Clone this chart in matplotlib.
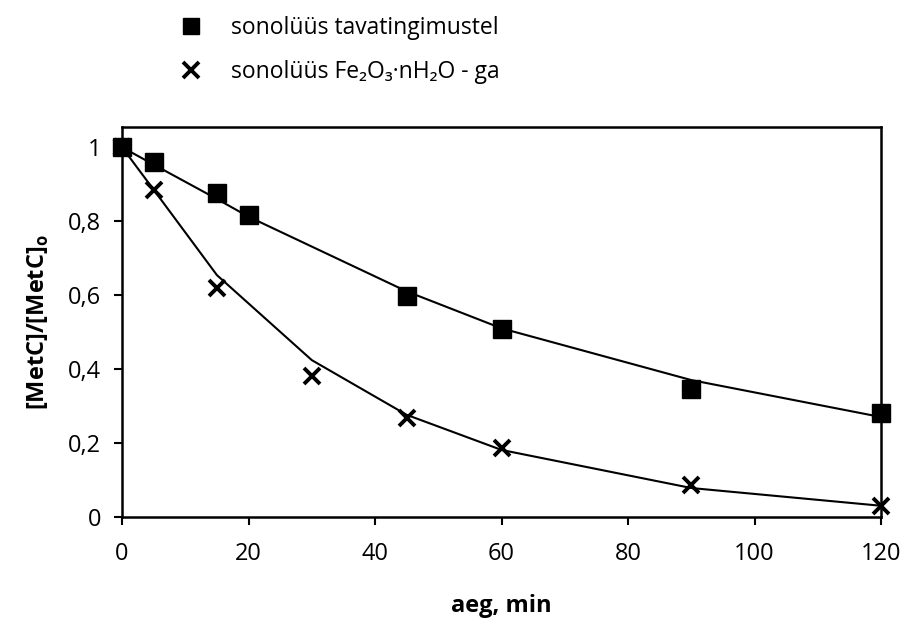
import matplotlib
matplotlib.use("Agg")
import matplotlib.pyplot as plt
from matplotlib.lines import Line2D
from matplotlib.ticker import FuncFormatter

plt.rcParams["font.family"] = ["Open Sans", "DejaVu Sans"]
plt.rcParams["mathtext.fontset"] = "custom"
plt.rcParams["mathtext.rm"] = "Open Sans"
plt.rcParams["mathtext.bf"] = "Open Sans:bold"

# mõõdetud punktid
t_sq = [0, 5, 15, 20, 45, 60, 90, 120]
y_sq = [1.0, 0.96, 0.876, 0.816, 0.597, 0.508, 0.346, 0.281]
t_x = [0, 5, 15, 30, 45, 60, 90, 120]
y_x = [1.0, 0.884, 0.619, 0.381, 0.268, 0.186, 0.086, 0.03]

# mudeli kõverad
fit_sq = [1.0, 0.953, 0.86, 0.812, 0.61, 0.51, 0.37, 0.27]
fit_x = [1.0, 0.885, 0.654, 0.424, 0.276, 0.181, 0.078, 0.03]

x_ticks = [0, 20, 40, 60, 80, 100, 120]
y_ticks = [0, 0.2, 0.4, 0.6, 0.8, 1.0]

label_sq = "sonolüüs tavatingimustel"
label_x = "sonolüüs Fe₂O₃·nH₂O - ga"

fig = plt.figure(figsize=(9.04, 6.19), dpi=100)
ax = fig.add_axes([0.135, 0.165, 0.8397, 0.630])

ax.plot(t_sq, fit_sq, color="black", lw=1.5, zorder=2)
ax.plot(t_x, fit_x, color="black", lw=1.5, zorder=2)
ax.plot(t_sq, y_sq, ls="none", marker="s", ms=13, color="black", zorder=3, clip_on=False)
ax.plot(t_x, y_x, ls="none", marker="x", ms=12, mew=2.8, color="black", zorder=3, clip_on=False)

ax.set_xlim(0, 120)
ax.set_ylim(0, 1.055)
ax.set_xticks(x_ticks)
ax.set_yticks(y_ticks)
ax.yaxis.set_major_formatter(FuncFormatter(lambda v, _: f"{v:g}".replace(".", ",")))
ax.tick_params(direction="out", length=6, width=1.5, labelsize=17)
ax.tick_params(axis="x", pad=12)
ax.tick_params(axis="y", pad=9)
for sp in ax.spines.values():
    sp.set_linewidth(1.8)

ax.set_xlabel("aeg, min", fontsize=17, fontweight="bold", labelpad=20)
ax.set_ylabel(r"[MetC]/[MetC]$_\mathbf{o}$", fontsize=17, fontweight="bold", labelpad=12)

handles = [
    Line2D([], [], ls="none", marker="s", ms=12, color="black"),
    Line2D([], [], ls="none", marker="x", ms=11, mew=2.8, color="black"),
]
fig.legend(handles, [label_sq, label_x], loc="upper left", bbox_to_anchor=(0.173, 1.008),
           frameon=False, fontsize=16.5, handlelength=1.2, handletextpad=1.15, labelspacing=0.9)

fig.savefig("out.png", dpi=100)
